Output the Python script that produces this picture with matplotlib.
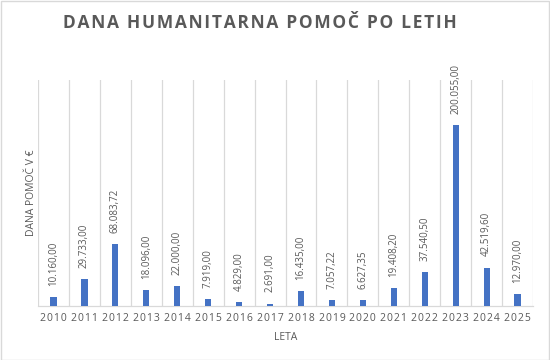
import matplotlib
matplotlib.use("Agg")
import matplotlib.pyplot as plt
import numpy as np
from matplotlib.patches import Rectangle

years = ["2010", "2011", "2012", "2013", "2014", "2015", "2016", "2017",
         "2018", "2019", "2020", "2021", "2022", "2023", "2024", "2025"]
values = [10160.00, 29733.00, 68083.72, 18096.00, 22000.00, 7919.00, 4829.00, 2691.00,
          16435.00, 7057.22, 6627.35, 19408.20, 37540.50, 200055.00, 42519.60, 12970.00]
title = "DANA HUMANITARNA POMOČ PO LETIH"
xlabel = "LETA"
ylabel = "DANA POMOČ V €"

GRAY = "#595959"
LINE = "#D9D9D9"
BLUE = "#4472C4"
FONT = ["Open Sans", "DejaVu Sans"]

plt.rcParams['font.family'] = FONT


def fmt(v):
    # slovenian number format: 12.345,67
    s = f"{v:,.2f}"
    return s.replace(",", "X").replace(".", ",").replace("X", ".")


def spaced(s):
    # fake letter spacing with hair spaces
    return "\u200a \u200a".join("\u200a".join(w) for w in s.split(" "))


fig = plt.figure(figsize=(5.5, 3.6), dpi=100)
ax = fig.add_axes([38 / 550, 54 / 360, 495 / 550, 226 / 360])

x = np.arange(len(years))
ax.bar(x, values, width=0.2, color=BLUE, zorder=3)

for xi, v in zip(x, values):
    ax.annotate(fmt(v), (xi, v), xytext=(0, 8), textcoords="offset points",
                rotation=90, ha="center", va="bottom", fontsize=7, color=GRAY)

ax.set_xlim(-0.5, len(years) - 0.5)
ax.set_ylim(0, 250000)

for b in np.arange(-0.5, len(years), 1.0):
    ax.axvline(b, color=LINE, lw=0.9, zorder=1)

for s in ["top", "left", "right"]:
    ax.spines[s].set_visible(False)
ax.spines["bottom"].set_color(LINE)
ax.spines["bottom"].set_linewidth(0.9)

ax.set_yticks([])
ax.set_xticks(x)
ax.set_xticklabels([spaced(y) for y in years], fontsize=7.5, color=GRAY)
ax.tick_params(axis="x", length=0, pad=5)

ax.set_xlabel(xlabel, fontsize=7.5, color=GRAY, labelpad=6)
ax.set_ylabel(ylabel, fontsize=7.5, color=GRAY, labelpad=1)

fig.text(260 / 550, 1 - 23 / 360, spaced(title), ha="center", va="center", fontsize=12.5,
         fontweight="bold", color=GRAY)

fig.patches.append(Rectangle((0.001, 0.001), 0.997, 0.997, transform=fig.transFigure,
                             fill=False, edgecolor=LINE, lw=1))

fig.savefig("out.png", dpi=100)
